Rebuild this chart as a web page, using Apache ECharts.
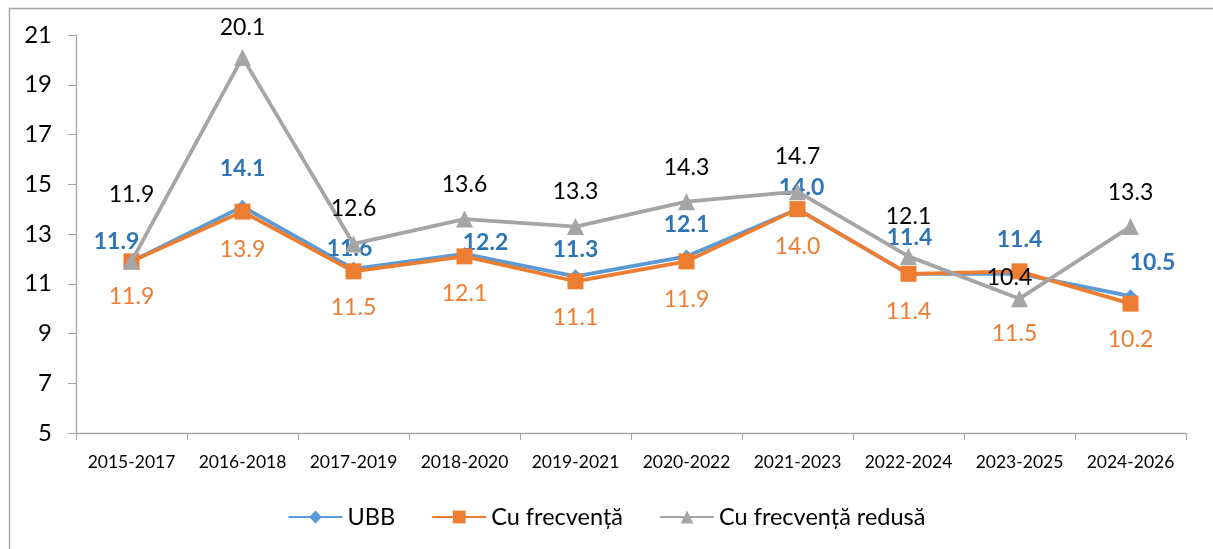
<!DOCTYPE html>
<html>
<head>
<meta charset="utf-8">
<script src="https://cdn.jsdelivr.net/npm/echarts@6/dist/echarts.min.js"></script>
<style>
html,body{margin:0;padding:0;background:#fff;}
#chart{width:1213px;height:549px;}
</style>
</head>
<body>
<div id="chart"></div>
<script>
// ---- data ----
const categories = ['2015-2017','2016-2018','2017-2019','2018-2020','2019-2021','2020-2022','2021-2023','2022-2024','2023-2025','2024-2026'];
const seriesNames = ['UBB','Cu frecvență','Cu frecvență redusă'];
const ubb = [11.9, 14.1, 11.6, 12.2, 11.3, 12.1, 14.0, 11.4, 11.4, 10.5];
const cuFrecventa = [11.9, 13.9, 11.5, 12.1, 11.1, 11.9, 14.0, 11.4, 11.5, 10.2];
const cuFrecventaRedusa = [11.9, 20.1, 12.6, 13.6, 13.3, 14.3, 14.7, 12.1, 10.4, 13.3];
const yTicks = {min: 5, max: 21, interval: 2};

// ---- label placement (offsets from each point, px) ----
const shiftUBB = [[-15,-20],[0,-38],[-4,-20],[21,-11],[0,-27],[0,-32],[4,-22],[1,-36],[0,-34],[22,-34]];
const shiftFrecv = [[0,35],[0,38],[0,36],[0,37],[0,36],[0,38],[0,37],[0,38],[-5,62],[0,36]];
const shiftRedusa = [[0,-67],[0,-30],[0,-35],[0,-34],[0,-35],[0,-34],[0,-35],[0,-40],[-10,-21],[0,-34]];

const FONT = 'Lato';
function withLabels(values, shifts, labelStyle){
  return values.map((v,i)=>({
    value: v,
    label: Object.assign({show:true, position:'inside', offset: shifts[i],
      formatter: p => Number(p.value).toFixed(1), fontFamily: FONT}, labelStyle)
  }));
}

const chart = echarts.init(document.getElementById('chart'), null, {renderer:'canvas'});
chart.setOption({
  backgroundColor:'#ffffff',
  animation:false,
  graphic:[{
    type:'rect', left:7, top:6, z:-1,
    shape:{width:1400, height:700},
    style:{fill:'none', stroke:'#A6A6A6', lineWidth:1.5}
  }],
  grid:{left:76, right:27, top:35, bottom:116},
  legend:{
    top:500, left:'center',
    itemWidth:54, itemHeight:16, itemGap:36,
    textStyle:{fontFamily:FONT, fontSize:23.5, color:'#000'},
    data: seriesNames
  },
  xAxis:{
    type:'category', data:categories, boundaryGap:true,
    axisLine:{lineStyle:{color:'#A6A6A6', width:1.3}},
    axisTick:{show:true, length:7, lineStyle:{color:'#A6A6A6'}},
    axisLabel:{fontFamily:FONT, fontSize:17.5, color:'#000', margin:20, interval:0}
  },
  yAxis:{
    type:'value', min:yTicks.min, max:yTicks.max, interval:yTicks.interval,
    splitLine:{show:false},
    axisLine:{show:true, lineStyle:{color:'#A6A6A6', width:1.3}},
    axisTick:{show:true, length:8, lineStyle:{color:'#A6A6A6'}},
    axisLabel:{fontFamily:FONT, fontSize:24, color:'#000', margin:24}
  },
  series:[
    {
      name:seriesNames[0], type:'line', data: withLabels(ubb, shiftUBB, {color:'#2E75B6', fontWeight:'bold', fontSize:23}),
      symbol:'diamond', symbolSize:14,
      lineStyle:{color:'#5B9BD5', width:3.8}, itemStyle:{color:'#5B9BD5'}, z:2
    },
    {
      name:seriesNames[1], type:'line', data: withLabels(cuFrecventa, shiftFrecv, {color:'#ED7D31', fontSize:23}),
      symbol:'rect', symbolSize:16,
      lineStyle:{color:'#ED7D31', width:3.8}, itemStyle:{color:'#ED7D31'}, z:3
    },
    {
      name:seriesNames[2], type:'line', data: withLabels(cuFrecventaRedusa, shiftRedusa, {color:'#000', fontSize:23}),
      symbol:'triangle', symbolSize:17,
      lineStyle:{color:'#A5A5A5', width:3.8}, itemStyle:{color:'#A5A5A5'}, z:4
    }
  ]
});
</script>
</body>
</html>
